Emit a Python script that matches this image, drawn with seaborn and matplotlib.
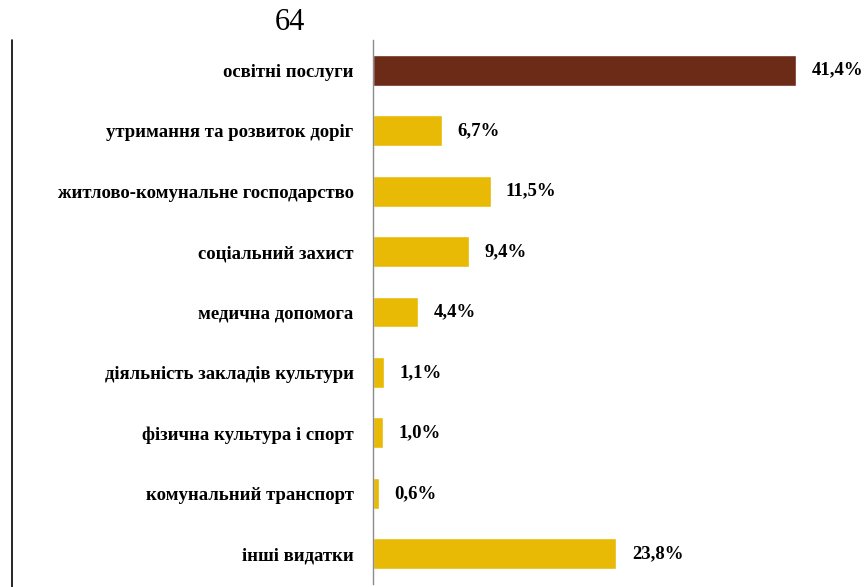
import matplotlib
matplotlib.use("Agg")
from matplotlib import pyplot as plt
from matplotlib.lines import Line2D
import seaborn as sns
import pandas as pd

categories = [
    "освітні послуги",
    "утримання та розвиток доріг",
    "житлово-комунальне господарство",
    "соціальний захист",
    "медична допомога",
    "діяльність закладів культури",
    "фізична культура і спорт",
    "комунальний транспорт",
    "інші видатки",
]
values = [41.4, 6.7, 11.5, 9.4, 4.4, 1.1, 1.0, 0.6, 23.8]
value_labels = ["41,4%", "6,7%", "11,5%", "9,4%", "4,4%", "1,1%", "1,0%", "0,6%", "23,8%"]
page_number = "64"

sns.set_theme(style="white")
plt.rcParams["font.family"] = ["Liberation Serif", "DejaVu Serif"]
plt.rcParams["text.color"] = "black"
plt.rcParams["ytick.color"] = "black"

df = pd.DataFrame({"category": categories, "value": values})
palette = ["#6B2B17"] + ["#E8BA05"] * (len(categories) - 1)

fig = plt.figure(figsize=(8.65, 5.87), dpi=100)
ax = fig.add_axes([373 / 865, 3 / 587, 492 / 865, 544 / 587])

sns.barplot(data=df, y="category", x="value", hue="category", palette=palette,
            legend=False, width=0.51, saturation=1, ax=ax)

for i, (v, lab) in enumerate(zip(values, value_labels)):
    ax.text(v + 1.5, i, lab, va="center", ha="left", fontsize=13.5,
            fontweight="bold", color="black")

ax.set_xlim(0, 48.1)
ax.set_ylim(8.5, -0.5)
ax.set_xlabel("")
ax.set_ylabel("")
ax.set_xticks([])
ax.tick_params(axis="y", length=0, pad=14, labelcolor="black")
for t in ax.get_yticklabels():
    t.set_fontsize(13.5)
    t.set_fontweight("bold")
for s in ["top", "right", "bottom"]:
    ax.spines[s].set_visible(False)
ax.spines["left"].set_color("#8C8C8C")
ax.spines["left"].set_linewidth(1.0)

fig.text(290 / 865, 1 - 23 / 587, page_number, ha="center", va="center", fontsize=22,
         color="black")
fig.add_artist(Line2D([12 / 865, 12 / 865], [0, 1 - 40 / 587], color="black", lw=1.2))

fig.savefig("out.png", dpi=100)
